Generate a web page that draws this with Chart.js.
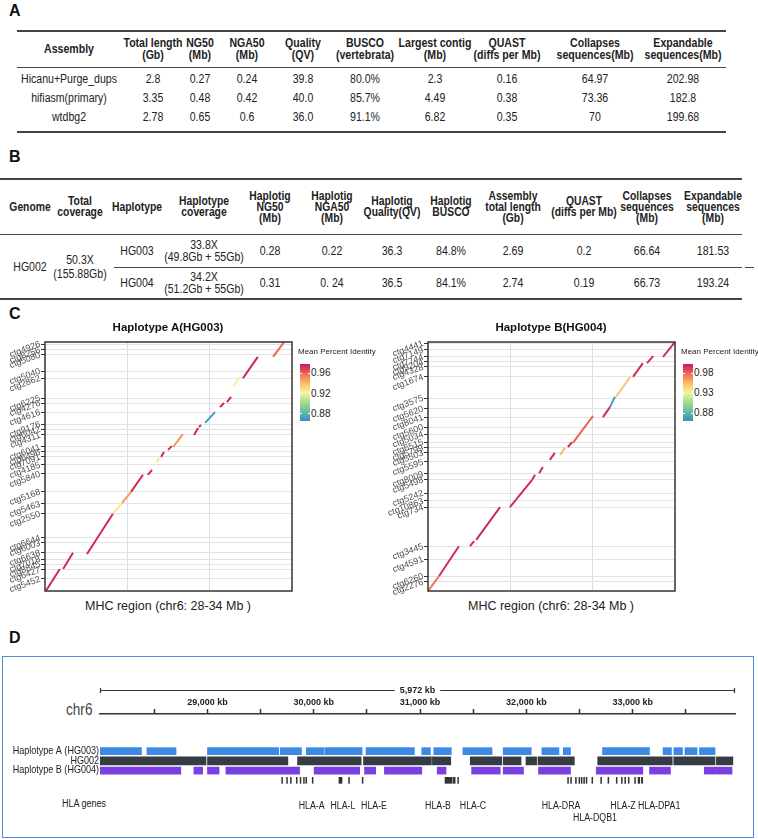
<!DOCTYPE html>
<html><head><meta charset="utf-8">
<script src="https://cdn.jsdelivr.net/npm/chart.js@4.4.1/dist/chart.umd.min.js"></script>
<style>
html,body{margin:0;padding:0;background:#fff;}
#root{position:relative;width:758px;height:839px;overflow:hidden;font-family:"Liberation Sans",Arial,sans-serif;color:#222;}
.plab{position:absolute;font:bold 16px "Liberation Sans",Arial,sans-serif;color:#111;}
.cell{position:absolute;text-align:center;white-space:nowrap;font-family:"Liberation Sans",Arial,sans-serif;font-size:12px;line-height:12px;color:#222;}
.hdr{font-weight:bold;}
.rule{position:absolute;background:#444;}
.txt{position:absolute;white-space:nowrap;}
canvas{position:absolute;}
</style></head><body><div id="root"></div>
<script>
// ---------------- DATA ----------------
// Panel A
const tableA_headers = ['Assembly','Total length|(Gb)','NG50|(Mb)','NGA50|(Mb)','Quality|(QV)','BUSCO|(vertebrata)','Largest contig|(Mb)','QUAST|(diffs per Mb)','Collapses|sequences(Mb)','Expandable|sequences(Mb)'];
const assemblies = ['Hicanu+Purge_dups','hifiasm(primary)','wtdbg2'];
const totalLengthGb = ['2.8','3.35','2.78'];
const ng50Mb = ['0.27','0.48','0.65'];
const nga50Mb = ['0.24','0.42','0.6'];
const qualityQV = ['39.8','40.0','36.0'];
const buscoVert = ['80.0%','85.7%','91.1%'];
const largestContigMb = ['2.3','4.49','6.82'];
const quastDiffs = ['0.16','0.38','0.35'];
const collapsesMb = ['64.97','73.36','70'];
const expandableMb = ['202.98','182.8','199.68'];

// Panel B
const tableB_headers = ['Genome','Total|coverage','Haplotype','Haplotype|coverage','Haplotig|NG50|(Mb)','Haplotig|NGA50|(Mb)','Haplotig|Quality(QV)','Haplotig|BUSCO','Assembly|total length|(Gb)','QUAST|(diffs per Mb)','Collapses|sequences|(Mb)','Expandable|sequences|(Mb)'];
const genomeB = 'HG002';
const totalCoverageB = '50.3X|(155.88Gb)';
const haplotypesB = ['HG003','HG004'];
const haplotypeCoverageB = ['33.8X|(49.8Gb + 55Gb)','34.2X|(51.2Gb + 55Gb)'];
const haplotigNG50 = ['0.28','0.31'];
const haplotigNGA50 = ['0.22','0. 24'];
const haplotigQV = ['36.3','36.5'];
const haplotigBUSCO = ['84.8%','84.1%'];
const asmTotalLength = ['2.69','2.74'];
const quastB = ['0.2','0.19'];
const collapsesB = ['66.64','66.73'];
const expandableB = ['181.53','193.24'];

// Panel C  (alignment: [ref start Mb, ref end Mb, query start Mb, query end Mb, mean identity])
const alnHapA = [
 [28.02,28.36,0.00,0.53,0.975],[28.44,28.68,0.53,0.92,0.975],[29.02,29.65,0.89,1.86,0.975],
 [29.65,29.87,1.86,2.12,0.925],[29.87,30.09,2.12,2.39,0.948],[30.09,30.38,2.39,2.80,0.975],
 [30.50,30.60,2.80,2.92,0.975],[30.72,30.77,3.11,3.21,0.928],[30.82,30.89,3.23,3.35,0.975],
 [30.99,31.08,3.40,3.49,0.975],[31.11,31.35,3.47,3.78,0.950],[31.62,31.72,3.76,3.93,0.975],
 [31.74,31.79,3.95,4.00,0.975],[31.89,32.13,4.05,4.31,0.872],[32.25,32.35,4.43,4.53,0.975],
 [32.42,32.52,4.55,4.68,0.975],[32.57,32.74,4.92,5.16,0.922],[32.81,33.17,5.13,5.64,0.975],
 [33.54,33.81,5.64,6.00,0.960]
];
const hapA_tickPos = [5.95,5.81,5.69,5.30,5.13,4.65,4.53,4.31,4.02,3.90,3.76,3.47,3.35,3.23,3.04,2.82,2.39,2.10,1.86,1.28,1.16,0.92,0.77,0.65,0.51,0.29];
const hapA_tickLab = ['ctg4926','ctg8256','ctg5080','ctg5040','ctg2862','ctg6225','ctg4276','ctg4616','ctg9176','ctg6042','ctg4311','ctg6041','ctg6496','ctg7091','ctg4185','ctg5840','ctg5168','ctg5463','ctg2550','ctg6644','ctg6003','ctg6638','ctg7018','ctg8845','ctg6427','ctg5452'];
const hapA_legendVals = [0.96,0.92,0.88];

const alnHapB = [
 [28.00,28.27,0.00,0.36,0.975],[28.27,28.75,0.36,1.08,0.998],[29.02,29.12,1.08,1.20,0.998],
 [29.17,29.75,1.23,2.02,0.998],[29.99,30.53,2.02,2.68,0.998],[30.53,30.60,2.68,2.80,0.998],
 [30.70,30.79,2.84,2.99,0.998],[30.96,31.08,3.16,3.33,0.998],[31.21,31.33,3.28,3.45,0.955],
 [31.40,31.50,3.47,3.59,0.998],[31.52,32.01,3.57,4.22,0.980],[32.25,32.42,4.19,4.43,0.998],
 [32.42,32.54,4.43,4.68,0.870],[32.57,32.91,4.68,5.16,0.952],[32.98,33.22,5.16,5.49,0.998],
 [33.32,33.47,5.49,5.66,0.998],[33.71,34.00,5.64,6.00,0.998]
];
const hapB_tickPos = [5.97,5.81,5.64,5.52,5.40,5.16,4.65,4.39,4.19,3.95,3.78,3.59,3.45,3.33,3.11,2.82,2.68,2.36,2.17,2.02,1.08,0.77,0.36,0.22];
const hapB_tickLab = ['ctg4441','ctg7149','ctg7744','ctg9204','ctg4328','ctg1674','ctg3575','ctg5620','ctg8041','ctg5600','ctg5034','ctg6515','ctg5799','ctg5503','ctg5595','ctg8009','ctg5498','ctg5242','ctg10863','ctg734','ctg3445','ctg4591','ctg6260','ctg2276'];
const hapB_legendVals = [0.98,0.93,0.88];

// Panel D (kb on chr6)
const trackNames = ['Haplotype A (HG003)','HG002','Haplotype B (HG004)'];
const hapA_blocks = [[27990,28380],[28431,28705],[29001,29671],[29685,29885],[29930,30093],[30103,30455],[30492,30947],[31016,31097],[31129,31294],[31403,31677],[31782,32046],[32146,32306],[32347,32415],[32716,33158],[33286,33364],[33387,33468],[33491,33605],[33628,33774]];
const hg002_blocks = [[27990,28987],[29001,29757],[29848,30446],[30468,31107],[31116,31289],[31472,31768],[31782,31950],[31996,32096],[32109,32451],[32671,33372],[33386,33774],[33787,33942]];
const hapB_blocks = [[27990,28750],[28873,28955],[29001,29110],[29174,29867],[30004,30432],[30478,30583],[30665,31016],[31161,31244],[31485,31754],[31782,31973],[32114,32415],[32657,33095],[33158,33355],[33673,33783],[33787,33934]];
const hlaMarks = [[29699,29707],[29745,29753],[29781,29789],[29836,29844],[29872,29880],[29904,29912],[29926,29934],[29986,29994],[30237,30266],[30328,30336],[30456,30464],[31235,31300],[31310,31330],[31354,31362],[32388,32396],[32416,32424],[32462,32470],[32494,32502],[32516,32524],[32539,32547],[32562,32570],[32616,32624],[32699,32707],[32767,32775],[32845,32853],[32894,32902],[32925,32933],[32958,32966],[33018,33026],[33050,33066],[33082,33094]];
const hlaLabels = ['HLA-A','HLA-L','HLA-E','HLA-B','HLA-C','HLA-DRA','HLA-DQB1','HLA-Z','HLA-DPA1'];
const hlaLabelKb = [29981,30275,30567,31169,31498,32326,32645,32909,33248];
const hlaLabelRow = [0,0,0,0,0,0,1,0,0];
const chromName = 'chr6';
const rulerText = '5,972 kb';
const viewStartKb = 27990, viewEndKb = 33962;
const axisTicksKb = [28500,29000,29500,30000,30500,31000,31500,32000,32500,33000,33500];

// ---------------- LAYOUT ----------------
const root = document.getElementById('root');
function el(tag, cls, css, html){const e=document.createElement(tag); if(cls) e.className=cls; Object.assign(e.style, css||{}); if(html!==undefined) e.innerHTML=html; root.appendChild(e); return e;}
function cell(x,y,text,bold,sx,extra){return el('div','cell'+(bold?' hdr':''),Object.assign({left:x+'px',top:y+'px',transform:'translate(-50%,-50%) scaleX('+sx+')'},extra||{}),text.split('|').join('<br>'));}
function rule(x1,x2,y,h){el('div','rule',{left:x1+'px',width:(x2-x1)+'px',top:(y-h/2)+'px',height:h+'px'});}

['A','B','C','D'].forEach((t,i)=>el('div','plab',{left:'9px',top:[2,148,305,629][i]+'px'},t));

// Table A
const colA = [69,153,200,247,303,365,435,507,595,683];
rule(17,726,31,2); rule(17,726,67,1); rule(17,726,132,2);
tableA_headers.forEach((h,i)=>cell(colA[i],49,h,true,0.88));
const colsA = [assemblies,totalLengthGb,ng50Mb,nga50Mb,qualityQV,buscoVert,largestContigMb,quastDiffs,collapsesMb,expandableMb];
const rowYA = [79,98,117];
colsA.forEach((col,i)=>col.forEach((v,r)=>cell(colA[i],rowYA[r],v,false,0.88)));

// Table B
const colB = [30,80,137,204,270,332,392,451,513,584,647,713];
rule(0,742,179,2); rule(0,742,234,1); rule(114,742,267,1); rule(745,754,267,1); rule(0,742,299,2);
tableB_headers.forEach((h,i)=>cell(colB[i],207,h,true,0.86,{lineHeight:'11px'}));
cell(colB[0],267,genomeB,false,0.88); cell(colB[1],267,totalCoverageB,false,0.88,{lineHeight:'14px'});
const rowYB = [251,283];
const colsB = [null,null,haplotypesB,haplotypeCoverageB,haplotigNG50,haplotigNGA50,haplotigQV,haplotigBUSCO,asmTotalLength,quastB,collapsesB,expandableB];
colsB.forEach((col,i)=>{ if(!col) return; col.forEach((v,r)=>cell(colB[i],rowYB[r],v,false,0.88,{lineHeight:'12px'})); });

// ---------------- PANEL C ----------------
const palette = [[0,'#3b8bc2'],[0.15,'#5fb9a6'],[0.32,'#a3da8e'],[0.5,'#f3f59c'],[0.66,'#fbbd6a'],[0.8,'#f17a55'],[0.9,'#df4458'],[1,'#c51f5a']];
function hex2rgb(h){return [1,3,5].map(i=>parseInt(h.substr(i,2),16));}
function palColor(t){t=Math.max(0,Math.min(1,t));for(let i=1;i<palette.length;i++){if(t<=palette[i][0]){const [t0,c0]=palette[i-1],[t1,c1]=palette[i];const f=(t-t0)/(t1-t0);const a=hex2rgb(c0),b=hex2rgb(c1);return 'rgb('+a.map((v,k)=>Math.round(v+(b[k]-v)*f)).join(',')+')';}}return palette[palette.length-1][1];}
function gradCss(){return 'linear-gradient(to top,'+palette.map(p=>p[1]+' '+(p[0]*100)+'%').join(',')+')';}

const frame={id:'frame',afterDraw(c){const a=c.chartArea,ctx=c.ctx;ctx.save();ctx.strokeStyle='#333';ctx.lineWidth=1.5;ctx.strokeRect(a.left,a.top,a.right-a.left,a.bottom-a.top);ctx.restore();}};

function dotplot(left, title, aln, tickPos, tickLab, dom, legendVals){
  const cv = el('canvas','',{left:left+'px',top:'320px'}); cv.width=300; cv.height=275;
  const datasets = aln.map(s=>({data:[{x:s[0],y:s[2]},{x:s[1],y:s[3]}],showLine:true,borderColor:palColor((s[4]-dom[0])/(dom[1]-dom[0])),borderWidth:2,pointRadius:0,pointHoverRadius:0,fill:false,borderCapStyle:'butt'}));
  new Chart(cv,{type:'scatter',data:{datasets},options:{
    responsive:false,animation:false,devicePixelRatio:1,
    layout:{padding:{top:22,right:8,bottom:4,left:0}},
    plugins:{legend:{display:false},tooltip:{enabled:false}},
    scales:{
      x:{type:'linear',min:28,max:34,afterBuildTicks:a=>{a.ticks=[30,32].map(v=>({value:v}));},ticks:{display:false},grid:{color:'#d8e0e6',drawTicks:false,lineWidth:1},border:{display:false},afterFit:s=>{s.height=0;s.paddingLeft=0;s.paddingRight=0;}},
      y:{type:'linear',min:0,max:6,afterBuildTicks:a=>{a.ticks=tickPos.map(v=>({value:v}));},ticks:{autoSkip:false,minRotation:20,maxRotation:20,padding:1,color:'#4d4d4d',font:{size:9,family:'Liberation Sans'},callback:(v,i)=>tickLab[i]},grid:{color:'#e3e3e3',tickColor:'#333',tickLength:4,lineWidth:1},border:{display:false},afterFit:s=>{s.width=45;s.paddingTop=0;s.paddingBottom=0;}}
    }},plugins:[frame]});
  const cx = left+168;
  el('div','txt',{left:(cx-80)+'px',width:'160px',textAlign:'center',top:'321px',font:'bold 11.5px "Liberation Sans",Arial,sans-serif',color:'#111'},title);
  el('div','txt',{left:(cx-100)+'px',width:'200px',textAlign:'center',top:'599px',font:'12.5px "Liberation Sans",Arial,sans-serif',color:'#222'},'MHC region (chr6: 28-34 Mb )');
  const lx = left+298;
  el('div','txt',{left:lx+'px',top:'347px',font:'8px "Liberation Sans",Arial,sans-serif',color:'#222'},'Mean Percent Identity');
  el('div','',{position:'absolute',left:(lx+2)+'px',top:'364px',width:'10px',height:'57px',background:gradCss()});
  legendVals.forEach(v=>{const t=(v-dom[0])/(dom[1]-dom[0]); const y=364+57*(1-t);
    el('div','',{position:'absolute',left:(lx+2)+'px',top:(y-0.5)+'px',width:'2px',height:'1px',background:'#fff'});
    el('div','',{position:'absolute',left:(lx+10)+'px',top:(y-0.5)+'px',width:'2px',height:'1px',background:'#fff'});
    el('div','txt',{left:(lx+13)+'px',top:(y-6)+'px',font:'10px "Liberation Sans",Arial,sans-serif',color:'#222'},v.toFixed(2));});
}
dotplot(0,'Haplotype A(HG003)',alnHapA,hapA_tickPos,hapA_tickLab,[0.866,0.978],hapA_legendVals);
dotplot(383,'Haplotype B(HG004)',alnHapB,hapB_tickPos,hapB_tickLab,[0.86,1.003],hapB_legendVals);

// ---------------- PANEL D ----------------
el('div','',{position:'absolute',left:'2px',top:'656px',width:'752px',height:'182px',border:'1.5px solid #4a8fdb',boxSizing:'border-box'});
el('div','txt',{left:'66px',top:'701px',font:'16px "Liberation Sans",Arial,sans-serif',color:'#444',transform:'scaleX(0.85)',transformOrigin:'left center'},chromName);
el('div','txt',{left:'62px',top:'798px',font:'10px "Liberation Sans",Arial,sans-serif',color:'#222',transform:'scaleX(0.9)',transformOrigin:'left center'},'HLA genes');

function narrowText(ctx,t,x,y,align,sx){ctx.save();ctx.translate(x,y);ctx.scale(sx,1);ctx.textAlign=align;ctx.fillText(t,0,0);ctx.restore();}
const cvD = el('canvas','',{left:'0px',top:'665px'}); cvD.width=758; cvD.height=172;
const ruler={id:'ruler',afterDraw(c){const a=c.chartArea,ctx=c.ctx;const y=a.top-24;ctx.save();ctx.strokeStyle='#333';ctx.lineWidth=1.2;
  ctx.beginPath();ctx.moveTo(a.left,y+0.5);ctx.lineTo(a.right,y+0.5);ctx.moveTo(a.left+0.5,y-2);ctx.lineTo(a.left+0.5,y+3);ctx.moveTo(a.right-0.5,y-2);ctx.lineTo(a.right-0.5,y+3);ctx.stroke();
  ctx.font='bold 9px "Liberation Sans",Arial,sans-serif';const w=ctx.measureText(rulerText).width;const cx=(a.left+a.right)/2;
  ctx.fillStyle='#fff';ctx.fillRect(cx-w/2-5,y-6,w+10,12);ctx.fillStyle='#222';ctx.textAlign='center';ctx.textBaseline='middle';ctx.fillText(rulerText,cx,y+1);
  const xs=c.scales.x, ys=c.scales.y;
  ctx.font='10.5px "Liberation Sans",Arial,sans-serif';ctx.fillStyle='#222';
  trackNames.forEach((t,i)=>narrowText(ctx,t,a.left-1,ys.getPixelForValue(i),'right',0.86));
  ctx.font='10px "Liberation Sans",Arial,sans-serif';
  hlaLabels.forEach((t,i)=>narrowText(ctx,t,xs.getPixelForValue(hlaLabelKb[i]),a.bottom+6+hlaLabelRow[i]*12,'center',0.88));
  ctx.restore();}};
const mk=(blocks,row,color,th)=>({data:blocks.map(b=>({x:b,y:row})),backgroundColor:color,borderWidth:0,barThickness:th,maxBarThickness:th,grouped:false,borderSkipped:false});
new Chart(cvD,{type:'bar',data:{datasets:[mk(hapA_blocks,0,'#3c89e6',7),mk(hg002_blocks,1,'#363c42',8),mk(hapB_blocks,2,'#7a3fe0',7),mk(hlaMarks,3,'#333',6)]},
 options:{indexAxis:'y',responsive:false,animation:false,devicePixelRatio:1,
  layout:{padding:{top:25,right:23,bottom:37,left:0}},
  plugins:{legend:{display:false},tooltip:{enabled:false}},
  scales:{
   x:{type:'linear',position:'top',min:viewStartKb,max:viewEndKb,afterBuildTicks:a=>{a.ticks=axisTicksKb.map(v=>({value:v}));},
      ticks:{autoSkip:false,maxRotation:0,padding:1,color:'#222',font:{size:9,weight:'bold',family:'Liberation Sans'},callback:v=>v%1000===0?v.toLocaleString('en-US')+' kb':''},
      grid:{drawOnChartArea:false,drawTicks:true,tickLength:5,tickColor:'#333',tickWidth:1.5},border:{display:true,color:'#333',width:1.5},
      afterFit:s=>{s.height=24;s.paddingLeft=0;s.paddingRight=0;}},
   y:{type:'linear',reverse:true,min:-2.35,max:3.55,afterBuildTicks:a=>{a.ticks=[0,1,2].map(v=>({value:v}));},
      ticks:{display:false},grid:{display:false},border:{display:false},afterFit:s=>{s.width=100;s.paddingTop=0;s.paddingBottom=0;}}
  }},plugins:[ruler]});
</script></body></html>
